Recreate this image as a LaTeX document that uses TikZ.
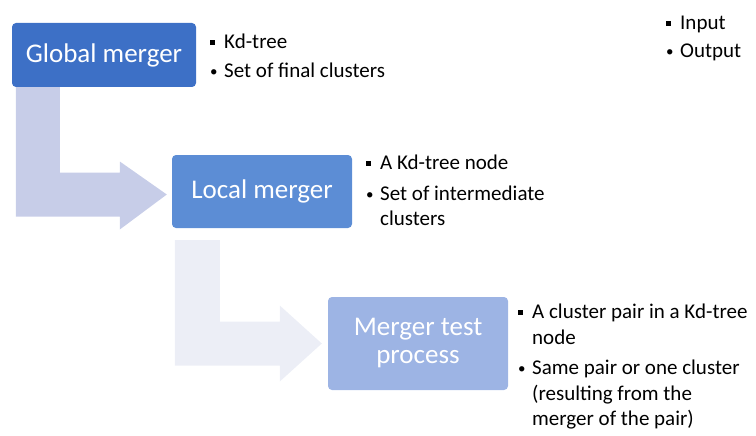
\documentclass[tikz,border=0pt]{standalone}
\usepackage{fontspec}
\setmainfont{Carlito}
\usepackage{tikz}
\usetikzlibrary{positioning, calc}

\definecolor{globalblue}{HTML}{3D70C6}
\definecolor{localblue}{HTML}{5C8DD5}
\definecolor{testblue}{HTML}{9DB4E4}
\definecolor{bendone}{HTML}{C7CDE8}
\definecolor{bendtwo}{HTML}{ECEEF6}

\newcommand{\ibul}{\makebox[14pt][l]{\rule[4pt]{5pt}{5pt}}}
\newcommand{\obul}{\makebox[14pt][l]{\raisebox{1pt}{\fontsize{15}{15}\selectfont •}}}
\newcommand{\gap}{\hspace*{14pt}}

\begin{document}
\begin{tikzpicture}[x=1pt,y=-1pt,
        stage/.style={rounded corners=4pt,inner sep=0pt,text=white,
          font=\fontsize{27}{28}\selectfont,align=center},
        io/.style={anchor=north west,inner sep=0pt,align=left,
          font=\fontsize{21}{25.5}\selectfont}]

  \useasboundingbox (0,0) rectangle (756,436);

  % boxes
  \node[stage,fill=globalblue,minimum width=184pt,minimum height=64pt] (global) at (104,55) {Global merger};
  \node[stage,fill=localblue,minimum width=180pt,minimum height=73pt]  (local)  at (262,191.5) {Local merger};
  \node[stage,fill=testblue,minimum width=180pt,minimum height=93pt]   (test)   at (418,343.5) {Merger test\\process};

  % bent arrows
  \fill[bendone] ([xshift=4pt]global.south west) -- ([xshift=48pt]global.south west)
      |- ([xshift=-52pt,yshift=19pt]local.west) -- ([xshift=-52pt,yshift=30pt]local.west)
      -- ([xshift=-5pt,yshift=-3pt]local.west) -- ([xshift=-52pt,yshift=-38pt]local.west)
      -- ([xshift=-52pt,yshift=-25pt]local.west) -| cycle;
  \fill[bendtwo] ([xshift=3pt,yshift=-12pt]local.south west) -- ([xshift=48pt,yshift=-12pt]local.south west)
      |- ([xshift=-48pt,yshift=22pt]test.west) -- ([xshift=-48pt,yshift=38pt]test.west)
      -- ([xshift=-6pt]test.west) -- ([xshift=-48pt,yshift=-38pt]test.west)
      -- ([xshift=-48pt,yshift=-22pt]test.west) -| cycle;

  % inputs and outputs
  \node[io] (global_io) at (210,34) {\ibul Kd-tree\\[3pt] \obul Set of final clusters};
  \node[io] (local_io)  at (366,155) {\ibul A Kd-tree node\\[5pt] \obul Set of intermediate\\ \gap clusters};
  \node[io] (test_io)   at (518,304) {\ibul A cluster pair in a Kd-tree\\ \gap node\\[5pt]
      \obul Same pair or one cluster\\ \gap (resulting from the\\ \gap merger of the pair)};
  \node[io] (legend)    at (666,16) {\ibul Input\\[2pt] \obul Output};
\end{tikzpicture}
\end{document}
